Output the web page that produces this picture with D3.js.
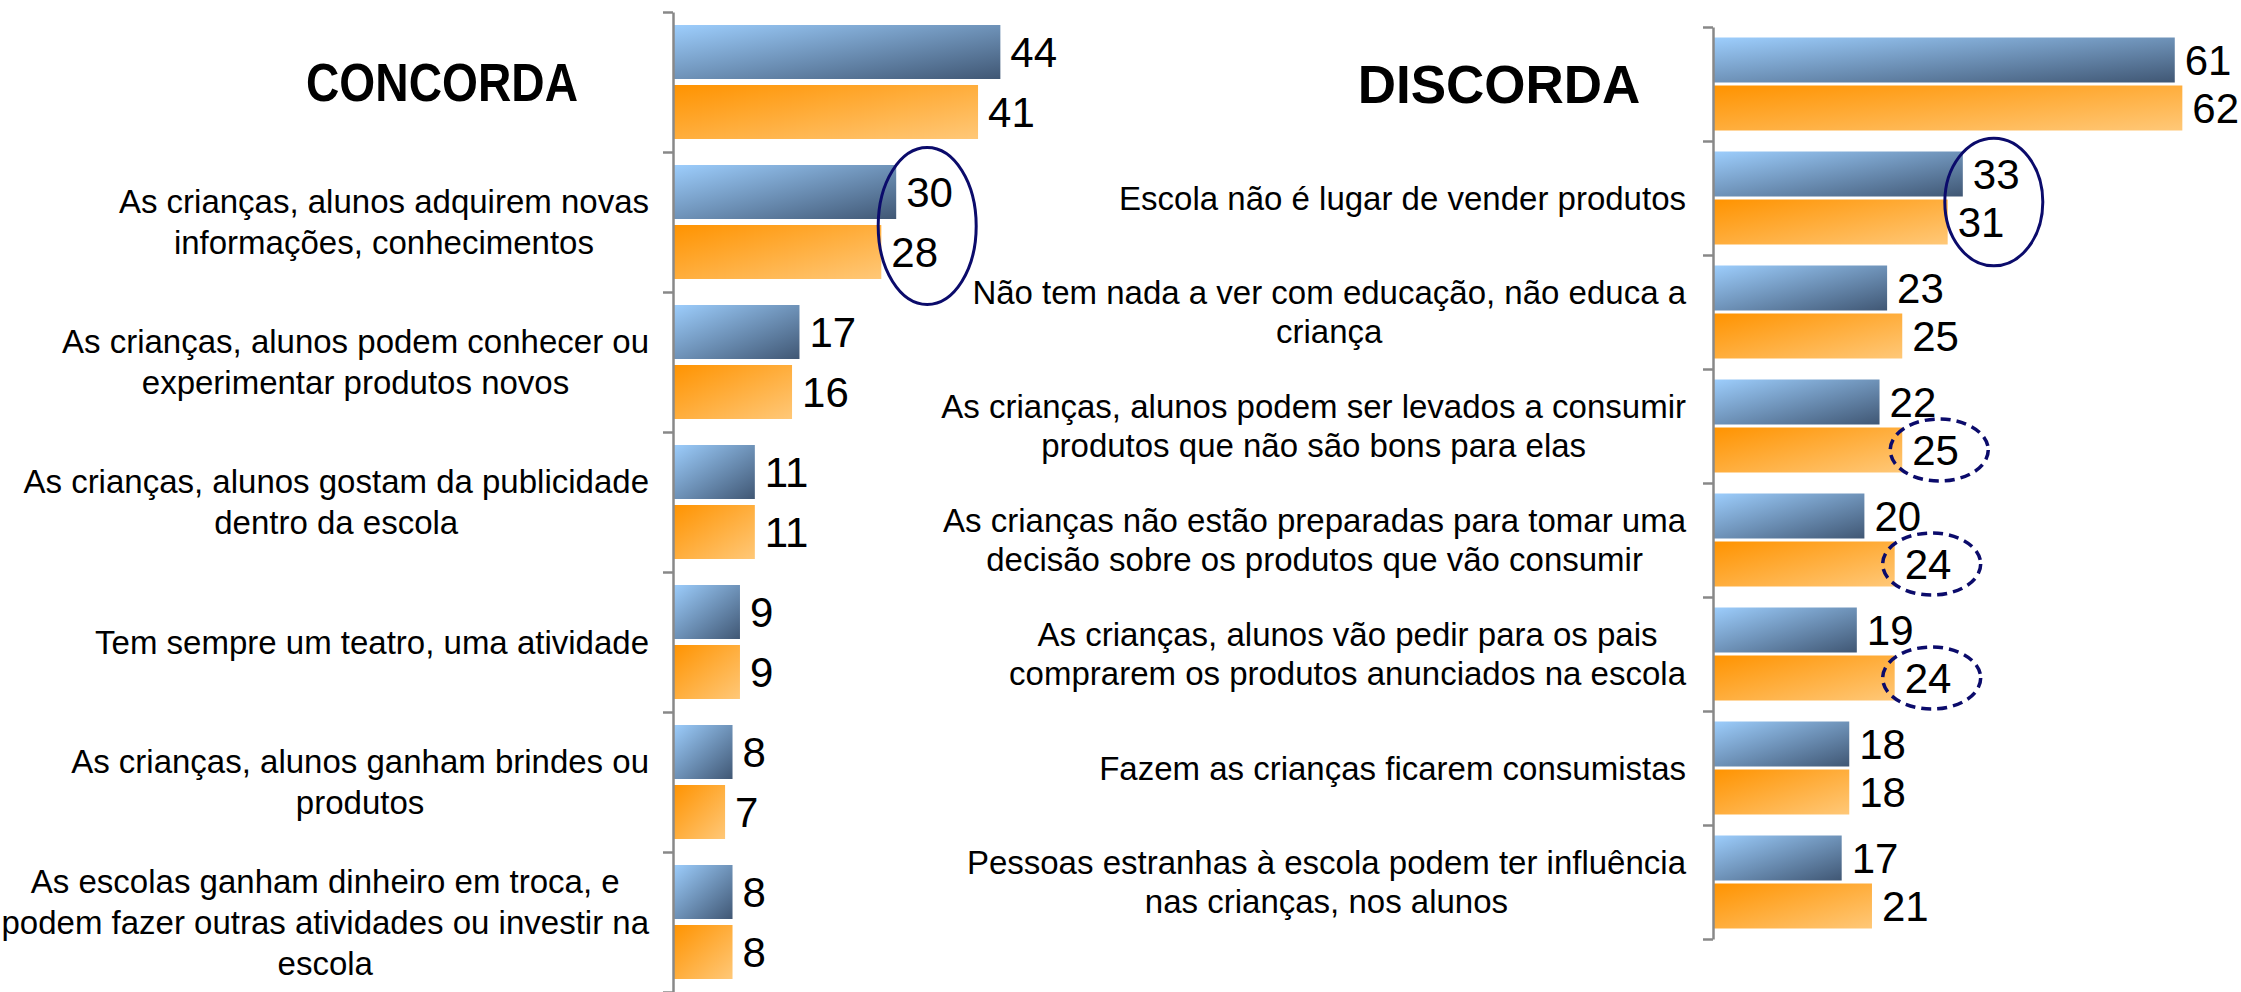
<!DOCTYPE html>
<meta charset="utf-8">
<script src="https://d3js.org/d3.v7.min.js"></script>
<style>
  body { margin: 0; background: #ffffff; }
  text { font-family: "Liberation Sans", Arial, sans-serif; fill: #000; }
</style>
<div id="my_dataviz"></div>
<script>

// ---- data: left panel (agree) ----
var leftTitle = "CONCORDA";
var leftLabels = [
  [],
  ["As crianças, alunos adquirem novas", "informações, conhecimentos"],
  ["As crianças, alunos podem conhecer ou", "experimentar produtos novos"],
  ["As crianças, alunos gostam da publicidade", "dentro da escola"],
  ["Tem sempre um teatro, uma atividade"],
  ["As crianças, alunos ganham brindes ou", "produtos"],
  ["As escolas ganham dinheiro em troca, e", "podem fazer outras atividades ou investir na", "escola"]
];
var leftBlue   = [44, 30, 17, 11, 9, 8, 8];
var leftOrange = [41, 28, 16, 11, 9, 7, 8];
var leftMarks  = [{row: 1, type: "solid"}];

// ---- data: right panel (disagree) ----
var rightTitle = "DISCORDA";
var rightLabels = [
  [],
  ["Escola não é lugar de vender produtos"],
  ["Não tem nada a ver com educação, não educa a", "criança"],
  ["As crianças, alunos podem ser levados a consumir", "produtos que não são bons para elas"],
  ["As crianças não estão preparadas para tomar uma", "decisão sobre os produtos que vão consumir"],
  ["As crianças, alunos vão pedir para os pais", "comprarem os produtos anunciados na escola"],
  ["Fazem as crianças ficarem consumistas"],
  ["Pessoas estranhas à escola podem ter influência", "nas crianças, nos alunos"]
];
var rightBlue   = [61, 33, 23, 22, 20, 19, 18, 17];
var rightOrange = [62, 31, 25, 25, 24, 24, 18, 21];
var rightMarks  = [{row: 1, type: "solid"}, {row: 3, type: "dashed"}, {row: 4, type: "dashed"}, {row: 5, type: "dashed"}];

var width = 2241, height = 992;

var svg = d3.select("#my_dataviz")
  .append("svg")
    .attr("width", width)
    .attr("height", height);

// diagonal gradients like the office bar fills
var defs = svg.append("defs");
function addGradient(id, c0, c1) {
  var g = defs.append("linearGradient")
    .attr("id", id)
    .attr("x1", 0).attr("y1", 0)
    .attr("x2", 1).attr("y2", 1);
  g.append("stop").attr("offset", "0%").attr("stop-color", c0);
  g.append("stop").attr("offset", "100%").attr("stop-color", c1);
}
addGradient("gradBlue", "#9dcefd", "#405774");
addGradient("gradOrange", "#ff9300", "#ffc878");

function drawPanel(p) {
  var n = p.blue.length;
  var rows = d3.range(n);

  var x = d3.scaleLinear().domain([0, 10]).range([p.axisX, p.axisX + 10 * p.unit]);
  var y = d3.scaleBand().domain(rows).range([p.top, p.top + n * p.step]);
  var ySub = d3.scaleBand().domain(["blue", "orange"]).range([0, p.step])
    .paddingInner(p.padIn).paddingOuter(p.padOut);

  var g = svg.append("g");

  // bars
  var series = [
    {key: "blue", values: p.blue, fill: "url(#gradBlue)"},
    {key: "orange", values: p.orange, fill: "url(#gradOrange)"}
  ];
  series.forEach(function(s) {
    g.selectAll("bar" + s.key)
      .data(s.values)
      .enter()
      .append("rect")
        .attr("x", x(0))
        .attr("y", function(d, i) { return y(i) + ySub(s.key); })
        .attr("width", function(d) { return x(d) - x(0); })
        .attr("height", ySub.bandwidth())
        .attr("fill", s.fill);

    // value labels
    g.selectAll("val" + s.key)
      .data(s.values)
      .enter()
      .append("text")
        .attr("x", function(d) { return x(d) + 10; })
        .attr("y", function(d, i) { return y(i) + ySub(s.key) + ySub.bandwidth() / 2 + 15; })
        .style("font-size", "42px")
        .text(function(d) { return d; });
  });

  // axis with ticks between categories
  var yAxis = d3.scaleLinear().domain([0, n]).range([p.top, p.top + n * p.step]);
  var ax = g.append("g")
    .attr("transform", "translate(" + p.axisX + ",0)")
    .call(d3.axisLeft(yAxis).tickValues(d3.range(n + 1)).tickFormat("").tickSize(10).tickSizeOuter(0));
  ax.selectAll("path, line").attr("stroke", "#888888").attr("stroke-width", 2.5);

  // title in the first row
  var title = g.append("text")
    .attr("x", p.axisX - p.titleOff)
    .attr("y", y(0) + p.step / 2 + 19)
    .attr("text-anchor", "middle")
    .style("font-size", "53px")
    .style("font-weight", "bold")
    .text(p.title);
  if (p.titleW) title.attr("textLength", p.titleW).attr("lengthAdjust", "spacingAndGlyphs");

  // category labels (centred lines, right edge near the axis)
  p.labels.forEach(function(lines, i) {
    if (!lines.length) return;
    var t = g.append("text")
      .attr("text-anchor", "middle")
      .style("font-size", "33px");
    var first = y(i) + p.step / 2 - (lines.length - 1) * p.lineH / 2 + 11.5;
    var spans = lines.map(function(l, k) {
      return t.append("tspan").attr("y", first + k * p.lineH).text(l);
    });
    var maxW = d3.max(spans, function(s) { return s.node().getComputedTextLength(); });
    var cx = p.axisX - p.gap - maxW / 2;
    spans.forEach(function(s) { s.attr("x", cx); });
  });

  // highlight ellipses
  p.marks.forEach(function(m) {
    var e = g.append("ellipse")
      .attr("fill", "none")
      .attr("stroke", "#0b0b6b");
    if (m.type === "solid") {
      e.attr("cx", x(Math.max(p.blue[m.row], p.orange[m.row])) + 31)
       .attr("cy", y(m.row) + p.step / 2 + 4)
       .attr("rx", 49)
       .attr("ry", p.step * 0.56)
       .attr("stroke-width", 3);
    } else {
      e.attr("cx", x(p.orange[m.row]) + 37)
       .attr("cy", y(m.row) + ySub("orange") + ySub.bandwidth() / 2)
       .attr("rx", 49)
       .attr("ry", 31)
       .attr("stroke-width", 3.5)
       .attr("stroke-dasharray", "10,6");
    }
  });
}

drawPanel({
  title: leftTitle, labels: leftLabels, blue: leftBlue, orange: leftOrange, marks: leftMarks,
  axisX: 673, unit: 7.44, top: 12, step: 140, padIn: 0.1, padOut: 0.2167,
  lineH: 41, gap: 24, titleOff: 231, titleW: 272
});

drawPanel({
  title: rightTitle, labels: rightLabels, blue: rightBlue, orange: rightOrange, marks: rightMarks,
  axisX: 1713, unit: 7.57, top: 27, step: 114, padIn: 0.0625, padOut: 0.21875,
  lineH: 39.5, gap: 27, titleOff: 214, titleW: null
});

</script>
